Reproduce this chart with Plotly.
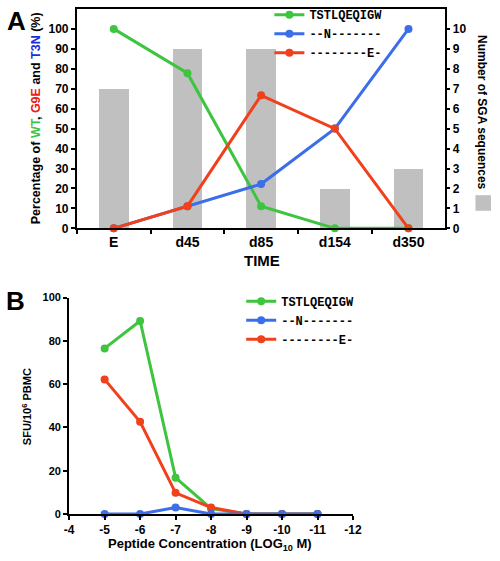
import plotly.graph_objects as go

# ---------------- Data ----------------
# Panel A
time_points = ["E", "d45", "d85", "d154", "d350"]
sga_counts = [7, 9, 9, 2, 3]
pct_wt = [100, 77.8, 11.1, 0, 0]        # TSTLQEQIGW
pct_t3n = [0, 11.1, 22.2, 50, 100]      # --N-------
pct_g9e = [0, 11.1, 66.7, 50, 0]        # --------E-

# Panel B
conc_log = [-5, -6, -7, -8, -9, -10, -11]
sfu_wt = [76.5, 89.2, 16.8, 2.5, 0, 0, 0]
sfu_t3n = [0, 0, 3, 0, 0, 0, 0]
sfu_g9e = [62.2, 42.6, 9.8, 3, 0, 0, 0]

conc_ticks = [-4, -5, -6, -7, -8, -9, -10, -11, -12]
seq_labels = ["TSTLQEQIGW", "--N-------", "--------E-"]

GREEN = "#3ec43e"
BLUE = "#3b6ee8"
RED = "#f0401c"
GRAY = "#c0c0c0"

W, H = 500, 561
def px(x):
    return x / W
def py(y):
    return 1 - y / H

fig = go.Figure()

# Bars (base axis, right side)
fig.add_trace(go.Bar(x=time_points, y=sga_counts, marker=dict(color=GRAY, line=dict(width=0)),
                     width=0.4, xaxis="x", yaxis="y", showlegend=False, hoverinfo="skip"))

def line_trace(x, y, name, color, xa, ya, leg, rank):
    return go.Scatter(x=x, y=y, name=name, xaxis=xa, yaxis=ya,
                      line=dict(color=color, width=3), marker=dict(color=color, size=8),
                      mode="lines+markers", cliponaxis=False, legend=leg, legendrank=rank)

# Panel A lines (overlaying axis, left side)
fig.add_trace(line_trace(time_points, pct_wt, seq_labels[0], GREEN, "x", "y2", "legend", 1))
fig.add_trace(line_trace(time_points, pct_t3n, seq_labels[1], BLUE, "x", "y2", "legend", 2))
fig.add_trace(line_trace(time_points, pct_g9e, seq_labels[2], RED, "x", "y2", "legend", 3))

# Panel B lines
fig.add_trace(line_trace(conc_log, sfu_wt, seq_labels[0], GREEN, "x3", "y3", "legend2", 1))
fig.add_trace(line_trace(conc_log, sfu_g9e, seq_labels[2], RED, "x3", "y3", "legend2", 3))
fig.add_trace(line_trace(conc_log, sfu_t3n, seq_labels[1], BLUE, "x3", "y3", "legend2", 2))

SANS = "Liberation Sans, Arial, sans-serif"
tickfont_bold = dict(family=SANS, size=12, color="black", weight="bold")
axis_common = dict(showline=True, linecolor="black", linewidth=2, ticks="outside",
                   tickwidth=1.5, tickcolor="black", showgrid=False, zeroline=False)

legend_common = dict(
    font=dict(family="Liberation Mono, Courier New, monospace", size=12, color="black", weight="bold"),
    bgcolor="rgba(0,0,0,0)", borderwidth=0, xanchor="left", yanchor="top",
    tracegroupgap=0, itemwidth=30,
)

fig.update_layout(
    width=W, height=H,
    margin=dict(l=0, r=0, t=0, b=0),
    paper_bgcolor="white", plot_bgcolor="rgba(0,0,0,0)",
    font=dict(family=SANS, color="black"),
    bargap=0,
    xaxis=dict(domain=[px(74), px(453)], anchor="y", type="category", range=[-0.5, 4.5],
               mirror=True, tickson="boundaries", ticklen=4,
               tickfont=dict(family=SANS, size=14, color="black", weight="bold"), **axis_common),
    yaxis=dict(domain=[py(227), py(2)], anchor="x", side="right", range=[0, 11],
               tickvals=list(range(0, 11)), ticklen=3, tickfont=tickfont_bold, **axis_common),
    yaxis2=dict(overlaying="y", anchor="x", side="left", range=[0, 110],
                tickvals=list(range(0, 101, 10)), ticklen=4, tickfont=tickfont_bold, **axis_common),
    xaxis3=dict(domain=[px(66), px(358)], anchor="y3", range=[-4, -12],
                tickvals=conc_ticks, ticktext=[str(v) for v in conc_ticks], ticklen=4,
                tickfont=tickfont_bold, **axis_common),
    yaxis3=dict(domain=[py(520), py(298)], anchor="x3", range=[0, 100],
                tickvals=list(range(0, 101, 20)), ticklen=4,
                tickfont=dict(family=SANS, size=11, color="black", weight="bold"), **axis_common),
    legend=dict(x=px(272), y=py(-7), **legend_common),
    legend2=dict(x=px(243), y=py(287), **legend_common),
)

# Legend swatch for bars
fig.add_shape(type="rect", xref="paper", yref="paper",
              x0=px(484), x1=px(500), y0=py(209), y1=py(193),
              fillcolor=GRAY, line=dict(width=0))

ann_font = dict(family=SANS, color="black", weight="bold")

annotations = [
    dict(text="A", x=px(12), y=py(14), font=dict(size=26, **ann_font)),
    dict(text="B", x=px(11), y=py(302), font=dict(size=26, **ann_font)),
    dict(text=("Percentage of <span style='color:#3ec43e'>WT</span>, "
               "<span style='color:#e82018'>G9E</span> and "
               "<span style='color:#1a2ed8'>T3N</span> (%)"),
         x=px(32), y=py(114), textangle=-90, font=dict(size=12.5, **ann_font)),
    dict(text="Number of SGA sequences", x=px(490), y=py(108), textangle=90,
         font=dict(size=12, **ann_font)),
    dict(text="TIME", x=px(264), y=py(260), font=dict(size=15, **ann_font)),
    dict(text="SFU/10<sup>6</sup> PBMC", x=px(22), y=py(410), textangle=-90,
         font=dict(size=11, **ann_font)),
    dict(text="Peptide Concentration (LOG<sub>10</sub> M)", x=px(211), y=py(551),
         font=dict(size=13, **ann_font)),
]
for a in annotations:
    fig.add_annotation(xref="paper", yref="paper", showarrow=False,
                       xanchor="center", yanchor="middle", **a)

fig.write_html("out.html", config={"displayModeBar": False},
               post_script="document.body.style.margin='0';")
